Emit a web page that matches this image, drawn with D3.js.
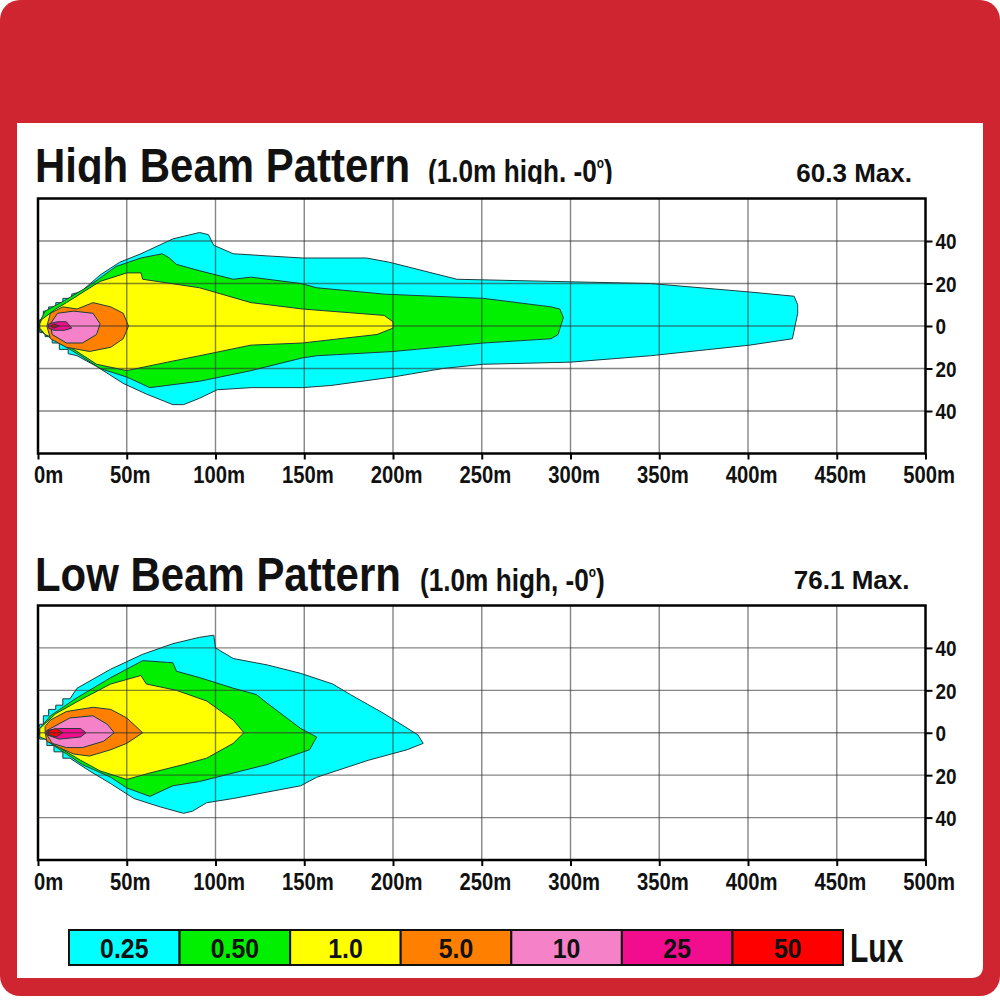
<!DOCTYPE html>
<html lang="en">
<head>
<meta charset="utf-8">
<title>Beam Pattern</title>
<script src="https://d3js.org/d3.v7.min.js"></script>
<style>
  body { margin: 0; background: #fff; }
  svg { display: block; }
  text { font-family: "Liberation Sans", Arial, sans-serif; font-weight: bold; fill: #111; }
</style>
</head>
<body>
<svg width="1000" height="1000"></svg>
<script>
// ---- data ----
const distTicks = [0, 50, 100, 150, 200, 250, 300, 350, 400, 450, 500];
const lateralTicks = [-40, -20, 0, 20, 40];
const luxLevels = ["0.25", "0.50", "1.0", "5.0", "10", "25", "50"];

// contour outlines: [distance m, lateral offset]
const high025 = [[0,1],[1,3],[3,3],[3,7],[6,7],[6,9],[10,9],[10,11],[14,11],[14,13],[19,13],[19,15],[24,16],[35,24],[46,30],[58,34],[76,41],[91,44],[96,43],[99,38],[110,34],[129,33],[149,32],[185,32],[198,30],[217,26],[236,22],[289,21],[345,20],[401,16],[426,14],[428,10],[428,6],[425,-6],[401,-9],[345,-14],[300,-17],[251,-18],[228,-20],[200,-24],[165,-28],[149,-29],[120,-29],[101,-30],[91,-34],[82,-37],[76,-37],[61,-32],[48,-27],[33,-19],[22,-14],[17,-13],[17,-11],[12,-11],[12,-8],[8,-8],[8,-5],[4,-5],[4,-3],[1,-3],[0,-1]];
const high050 = [[1,2],[4,7],[15,12],[29,19],[44,28],[58,32],[70,34],[74,32],[78,29],[91,26],[110,22],[120,23],[148,20],[157,18],[195,15],[251,13],[289,9],[294,8],[296,4],[293,-4],[289,-6],[251,-8],[200,-12],[157,-14],[149,-15],[120,-21],[91,-26],[63,-29],[50,-24],[35,-20],[24,-14],[12,-8],[4,-4],[1,-2]];
const high1 = [[1,1],[2,3],[10,8],[16,11],[35,21],[50,25],[58,25],[59,22],[91,18],[120,11],[149,8],[195,5],[200,2],[200,-1],[191,-4],[149,-8],[120,-9],[91,-14],[73,-17],[50,-21],[33,-18],[22,-12],[12,-7],[4,-4],[1,-1]];
const high5 = [[5,0],[7,6],[14,9],[22,8],[31,11],[41,9],[48,6],[51,0],[48,-6],[41,-10],[29,-12],[16,-10],[7,-6]];
const high10 = [[7,1],[11,6],[20,7],[31,6],[35,1],[33,-4],[25,-8],[16,-8],[8,-4]];
const high25 = [[6,1],[11,2],[16,2],[19,-1],[15,-2],[9,-2],[6,-1]];
const high50 = [[7,0],[9,1],[12,0],[9,-1]];

const low025 = [[0,1],[1,4],[3,4],[3,8],[6,8],[6,11],[10,11],[10,13],[14,13],[14,16],[18,16],[22,21],[41,30],[59,37],[76,42],[91,45],[99,46],[100,40],[110,35],[129,32],[148,28],[166,23],[176,18],[195,9],[214,-1],[217,-5],[208,-8],[186,-13],[157,-21],[148,-25],[110,-31],[95,-33],[87,-37],[82,-38],[69,-35],[54,-31],[41,-24],[29,-18],[18,-12],[14,-12],[14,-9],[9,-9],[9,-6],[5,-6],[5,-3],[1,-3],[0,-1]];
const low050 = [[1,2],[7,8],[21,16],[41,26],[59,34],[76,33],[78,29],[91,26],[110,21],[123,18],[129,14],[148,2],[157,-2],[153,-8],[129,-15],[110,-19],[91,-23],[76,-25],[63,-30],[50,-26],[41,-21],[25,-15],[16,-10],[7,-5],[1,-1]];
const low1 = [[1,2],[10,9],[25,16],[41,23],[58,27],[61,23],[78,20],[95,15],[110,6],[116,0],[110,-5],[95,-12],[82,-15],[63,-19],[50,-22],[35,-18],[24,-13],[14,-8],[7,-4],[1,-2]];
const low5 = [[4,0],[4,3],[7,6],[16,10],[31,12],[41,11],[50,7],[59,0],[50,-5],[41,-8],[29,-11],[20,-10],[12,-7],[5,-4]];
const low10 = [[5,1],[7,2],[18,7],[31,8],[39,4],[43,0],[37,-4],[25,-7],[16,-7],[8,-5],[5,-1]];
const low25 = [[5,1],[12,2],[24,2],[27,0],[24,-2],[12,-3],[5,-1]];
const low50 = [[6,1],[10,2],[14,0],[10,-2],[6,-1]];

const luxColors = ["#00ffff", "#00f000", "#ffff00", "#ff8000", "#f582c8", "#f20c8e", "#ff0000"];

const svg = d3.select("svg");

// red card background
svg.append("rect").attr("width", 1000).attr("height", 996).attr("rx", 20).attr("fill", "#cf2530");
svg.append("path").attr("d", "M17,123H983V966Q983,978 971,978H17Z").attr("fill", "#fff");

svg.append("defs").append("clipPath").attr("id", "titleClip")
  .append("rect").attr("x", 0).attr("y", 0).attr("width", 1000).attr("height", 184);

const charts = [
  {title: "High Beam Pattern", sub: "(1.0m high. -0", max: "60.3 Max.", top: 198.5, bottom: 453.5,
   titleY: 181.5, maxY: 181.5, clip: true, zones: [high025, high050, high1, high5, high10, high25, high50]},
  {title: "Low Beam Pattern", sub: "(1.0m high, -0", max: "76.1 Max.", top: 605.5, bottom: 860,
   titleY: 590.5, maxY: 588.5, clip: false, zones: [low025, low050, low1, low5, low10, low25, low50]}
];

charts.forEach(drawChart);

function drawChart(c) {
  const x = d3.scaleLinear().domain([0, 500]).range([38, 925.5]);
  const y = d3.scaleLinear().domain([-60, 60]).range([c.bottom, c.top]);
  const line = d3.line().x(d => x(d[0])).y(d => y(d[1]));
  const g = svg.append("g");

  // contour fills, outer to inner
  g.selectAll("path.zone").data(c.zones).join("path")
    .attr("class", "zone")
    .attr("d", d => line(d) + "Z")
    .attr("fill", (d, i) => luxColors[i])
    .attr("stroke", "#1d3c40")
    .attr("stroke-width", 1);

  // grid over the fills
  g.selectAll("line.vg").data(distTicks.slice(1, -1)).join("line")
    .attr("x1", d => x(d)).attr("x2", d => x(d))
    .attr("y1", c.top).attr("y2", c.bottom)
    .attr("stroke", "#333").attr("stroke-opacity", 0.6).attr("stroke-width", 1.4);
  g.selectAll("line.hg").data(lateralTicks).join("line")
    .attr("x1", x(0)).attr("x2", x(500))
    .attr("y1", d => y(d)).attr("y2", d => y(d))
    .attr("stroke", "#333").attr("stroke-opacity", 0.6).attr("stroke-width", 1.4);

  g.append("rect")
    .attr("x", x(0)).attr("y", c.top)
    .attr("width", x(500) - x(0)).attr("height", c.bottom - c.top)
    .attr("fill", "none").attr("stroke", "#000").attr("stroke-width", 2.5);

  // bottom axis
  const xa = g.append("g").attr("transform", `translate(0,${c.bottom})`)
    .call(d3.axisBottom(x).tickValues(distTicks).tickFormat(d => d + "m").tickSize(6));
  xa.select(".domain").remove();
  xa.selectAll("line").attr("stroke", "#000").attr("stroke-width", 2);
  xa.selectAll("text")
    .attr("font-size", 23).attr("font-family", null)
    .attr("fill", "#111")
    .attr("y", 30).attr("dy", 0)
    .attr("x", d => (d === 0 ? 10 : 3) / 0.88)
    .attr("transform", "scale(0.88,1)");

  // right axis
  const ya = g.append("g").attr("transform", `translate(${x(500)},0)`)
    .call(d3.axisRight(y).tickValues(lateralTicks).tickFormat(d => Math.abs(d)).tickSize(7));
  ya.select(".domain").remove();
  ya.selectAll("line").attr("stroke", "#000").attr("stroke-width", 2);
  ya.selectAll("text")
    .attr("font-size", 22).attr("font-family", null)
    .attr("fill", "#111")
    .attr("x", 10 / 0.86).attr("dy", "0.36em")
    .attr("transform", "scale(0.86,1)");

  // titles
  const tg = svg.append("g");
  if (c.clip) tg.attr("clip-path", "url(#titleClip)");
  tg.append("text")
    .attr("transform", `translate(35,${c.titleY}) scale(0.874,1)`)
    .attr("font-size", 48)
    .text(c.title);
  const sub = tg.append("text")
    .attr("transform", `translate(${c.clip ? 428 : 420},${c.titleY}) scale(0.845,1)`)
    .attr("font-size", 31);
  sub.append("tspan").text(c.sub);
  sub.append("tspan").attr("font-size", 14).attr("dy", -14).text("o");
  sub.append("tspan").attr("dy", 14).text(")");
  tg.append("text")
    .attr("x", c.clip ? 912 : 909.5).attr("y", c.maxY)
    .attr("text-anchor", "end")
    .attr("font-size", 26)
    .text(c.max);
}

// legend
const lx = d3.scaleBand().domain(luxLevels).range([69, 843]).padding(0);
const lg = svg.append("g");
lg.selectAll("rect").data(luxLevels).join("rect")
  .attr("x", d => lx(d)).attr("y", 930)
  .attr("width", lx.bandwidth()).attr("height", 35)
  .attr("fill", (d, i) => luxColors[i])
  .attr("stroke", "#111").attr("stroke-width", 2);
lg.selectAll("text").data(luxLevels).join("text")
  .attr("transform", d => `translate(${lx(d) + lx.bandwidth() / 2},958) scale(0.92,1)`)
  .attr("text-anchor", "middle")
  .attr("font-size", 27)
  .text(d => d);
svg.append("text")
  .attr("transform", "translate(850,962) scale(0.75,1)")
  .attr("font-size", 40)
  .text("Lux");
</script>
</body>
</html>
